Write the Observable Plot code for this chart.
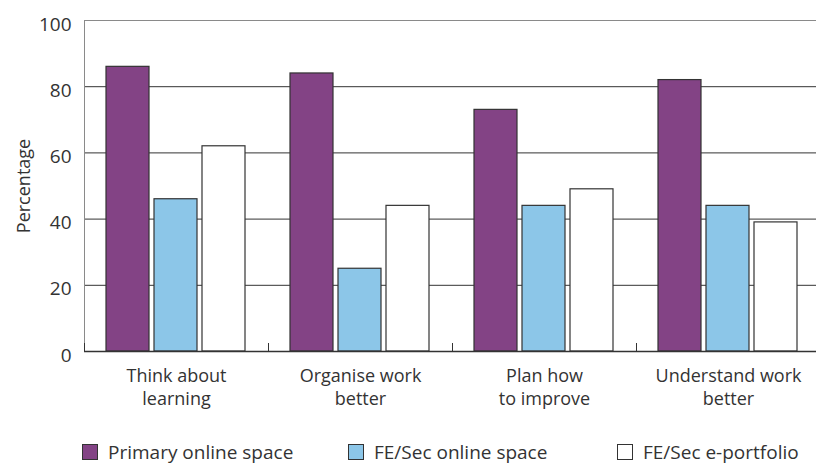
<!DOCTYPE html>
<html>
<head>
<meta charset="utf-8">
<script src="https://cdn.jsdelivr.net/npm/d3@7"></script>
<script src="https://cdn.jsdelivr.net/npm/@observablehq/plot@0.6"></script>
<style>
  html, body { margin: 0; padding: 0; background: #fff; overflow: hidden; }
  body { width: 816px; height: 466px; font-family: "Open Sans", sans-serif; color: #333; }
  #chart svg [aria-label="y-axis label"] text { font-size: 18px; }
  .legend { display: flex; height: 34px; align-items: center; font-size: 19px; color: #333; padding-top: 3px; }
  .legend .item { display: flex; align-items: center; }
  .legend .sw { width: 14px; height: 14px; border: 1.3px solid #333; margin-right: 10px; }
</style>
</head>
<body>
<div id="chart"></div>
<div class="legend" id="legend"></div>
<script>
const categories = ["Think about\nlearning", "Organise work\nbetter", "Plan how\nto improve", "Understand work\nbetter"];
const series = ["Primary online space", "FE/Sec online space", "FE/Sec e-portfolio"];
const primaryOnline = [86, 84, 73, 82];
const feSecOnline = [46, 25, 44, 44];
const feSecPortfolio = [62, 44, 49, 39];
const colors = ["#834385", "#8cc6e8", "#ffffff"];
const yTicks = [0, 20, 40, 60, 80, 100];
const gridTicks = [20, 40, 60, 80];

const seriesValues = [primaryOnline, feSecOnline, feSecPortfolio];
const data = categories.flatMap((c, i) =>
  series.map((s, j) => ({category: c, series: s, value: seriesValues[j][i]}))
);

const chart = Plot.plot({
  width: 816,
  height: 432,
  marginLeft: 82,
  marginTop: 20,
  marginRight: -5,
  marginBottom: 81,
  style: {fontFamily: "Open Sans", color: "#333", background: "#fff", overflow: "visible"},
  fx: {domain: categories, padding: 0, label: null, axis: null},
  x: {domain: series, paddingInner: 0.102, paddingOuter: 0.434, axis: null},
  y: {domain: [0, 100], axis: null},
  color: {domain: series, range: colors},
  marks: [
    Plot.ruleY(gridTicks, {stroke: "#333", strokeWidth: 1}),
    Plot.ruleY([100], {stroke: "#8a8a8a", strokeWidth: 1}),
    Plot.frame({anchor: "left", stroke: "#8a8a8a", strokeWidth: 1, facetAnchor: "left"}),
    Plot.frame({anchor: "left", stroke: "#333", strokeWidth: 1, insetTop: 323}),
    Plot.barY(data, {fx: "category", x: "series", y: "value", fill: "series", stroke: "#333", strokeWidth: 1.2}),
    Plot.ruleY([0], {stroke: "#333", strokeWidth: 1.5}),
    Plot.axisY({
      ticks: yTicks, tickSize: 0, tickPadding: 13, fontSize: 19, dy: 4,
      label: "Percentage", labelAnchor: "center", labelArrow: "none", labelOffset: 67
    }),
    Plot.axisFx({anchor: "bottom", tickSize: 0, tickPadding: 14, fontSize: 18, lineHeight: 1.27, label: null})
  ]
});
document.getElementById("chart").appendChild(chart);

const legend = document.getElementById("legend");
const legendLeft = [82, 348, 617];
series.forEach((s, i) => {
  const item = document.createElement("div");
  item.className = "item";
  item.style.position = "absolute";
  item.style.left = legendLeft[i] + "px";
  const sw = document.createElement("div");
  sw.className = "sw";
  sw.style.background = colors[i];
  const t = document.createElement("span");
  t.textContent = s;
  item.appendChild(sw);
  item.appendChild(t);
  legend.appendChild(item);
});
</script>
</body>
</html>
